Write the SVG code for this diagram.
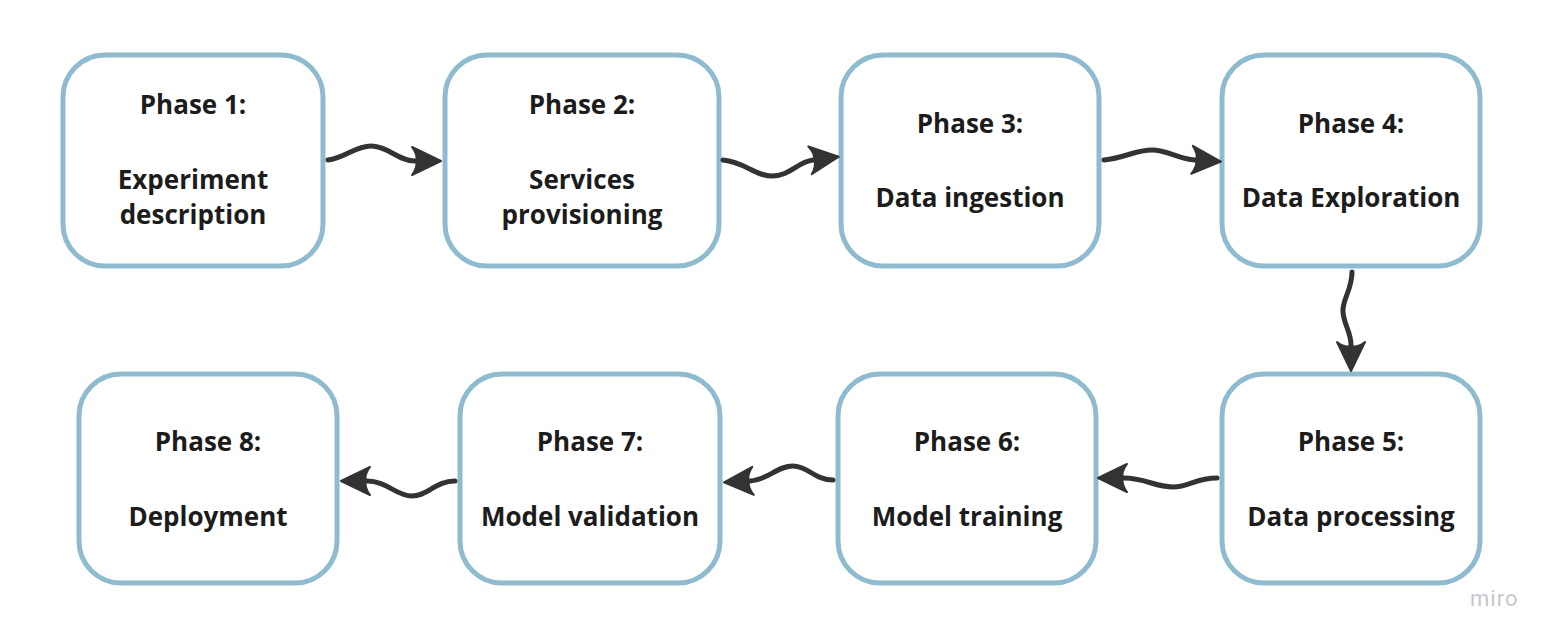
<svg xmlns="http://www.w3.org/2000/svg" width="1556" height="642" viewBox="0 0 1556 642">
<defs>
<style>
.box{fill:#ffffff;stroke:#8fbbd0;stroke-width:5}
.lbl{font-family:"Open Sans","Noto Sans","Liberation Sans",sans-serif;font-weight:700;font-size:26px;fill:#1c1c1c;text-anchor:middle}
.arr{fill:none;stroke:#333333;stroke-width:5;stroke-linecap:round;marker-end:url(#head)}
.wm{font-family:Roboto,"Open Sans",sans-serif;font-size:22px;fill:#c6c6ce;letter-spacing:1px}
</style>
<marker id="head" markerUnits="userSpaceOnUse" markerWidth="40" markerHeight="40" viewBox="-10 -20 40 40" refX="0" refY="0" orient="auto" overflow="visible">
<path d="M26,0 L-3,-14 Q3,-6 1,0 Q3,6 -3,14 Z" fill="#333333" stroke="#333333" stroke-width="2" stroke-linejoin="round"/>
</marker>
</defs>
<rect width="1556" height="642" fill="#ffffff"/>
<g id="node-phase1">
<rect class="box" x="63" y="55" width="260" height="211" rx="42"/>
<text class="lbl" x="193" y="114">Phase 1:</text>
<text class="lbl" x="193" y="189">Experiment</text>
<text class="lbl" x="193" y="224">description</text>
</g>
<g id="node-phase2">
<rect class="box" x="445" y="55" width="274" height="211" rx="42"/>
<text class="lbl" x="582" y="114">Phase 2:</text>
<text class="lbl" x="582" y="189">Services</text>
<text class="lbl" x="582" y="224">provisioning</text>
</g>
<g id="node-phase3">
<rect class="box" x="841" y="55" width="258" height="211" rx="42"/>
<text class="lbl" x="970" y="133">Phase 3:</text>
<text class="lbl" x="970" y="207">Data ingestion</text>
</g>
<g id="node-phase4">
<rect class="box" x="1222" y="55" width="258" height="211" rx="42"/>
<text class="lbl" x="1351" y="133">Phase 4:</text>
<text class="lbl" x="1351" y="207">Data Exploration</text>
</g>
<g id="node-phase5">
<rect class="box" x="1222" y="374" width="258" height="209" rx="42"/>
<text class="lbl" x="1351" y="451">Phase 5:</text>
<text class="lbl" x="1351" y="526">Data processing</text>
</g>
<g id="node-phase6">
<rect class="box" x="838" y="374" width="258" height="209" rx="42"/>
<text class="lbl" x="967" y="451">Phase 6:</text>
<text class="lbl" x="967" y="526">Model training</text>
</g>
<g id="node-phase7">
<rect class="box" x="460" y="374" width="260" height="209" rx="42"/>
<text class="lbl" x="590" y="451">Phase 7:</text>
<text class="lbl" x="590" y="526">Model validation</text>
</g>
<g id="node-phase8">
<rect class="box" x="79" y="374" width="258" height="209" rx="42"/>
<text class="lbl" x="208" y="451">Phase 8:</text>
<text class="lbl" x="208" y="526">Deployment</text>
</g>
<g id="connectors">
<path class="arr" d="M328,160 C345,158 355,146 371,146 C388,146 398,161 415,161"/>
<path class="arr" d="M723,160 C745,162 755,176 772,176 C790,176 797,162 813,160"/>
<path class="arr" d="M1104,160 C1125,158 1135,150 1152,150 C1168,150 1178,159 1195,160"/>
<path class="arr" d="M1352,272 C1352,290 1342,300 1343,312 C1344,325 1351,332 1351,345"/>
<path class="arr" d="M1217,478 C1195,478 1190,487 1173,487 C1155,487 1145,478 1124,478"/>
<path class="arr" d="M833,480 C815,480 808,466 793,466 C777,466 768,480 750,481"/>
<path class="arr" d="M455,481 C435,481 428,496 412,496 C396,496 387,481 367,481"/>
</g>
<text class="wm" x="1470" y="606">miro</text>
</svg>
